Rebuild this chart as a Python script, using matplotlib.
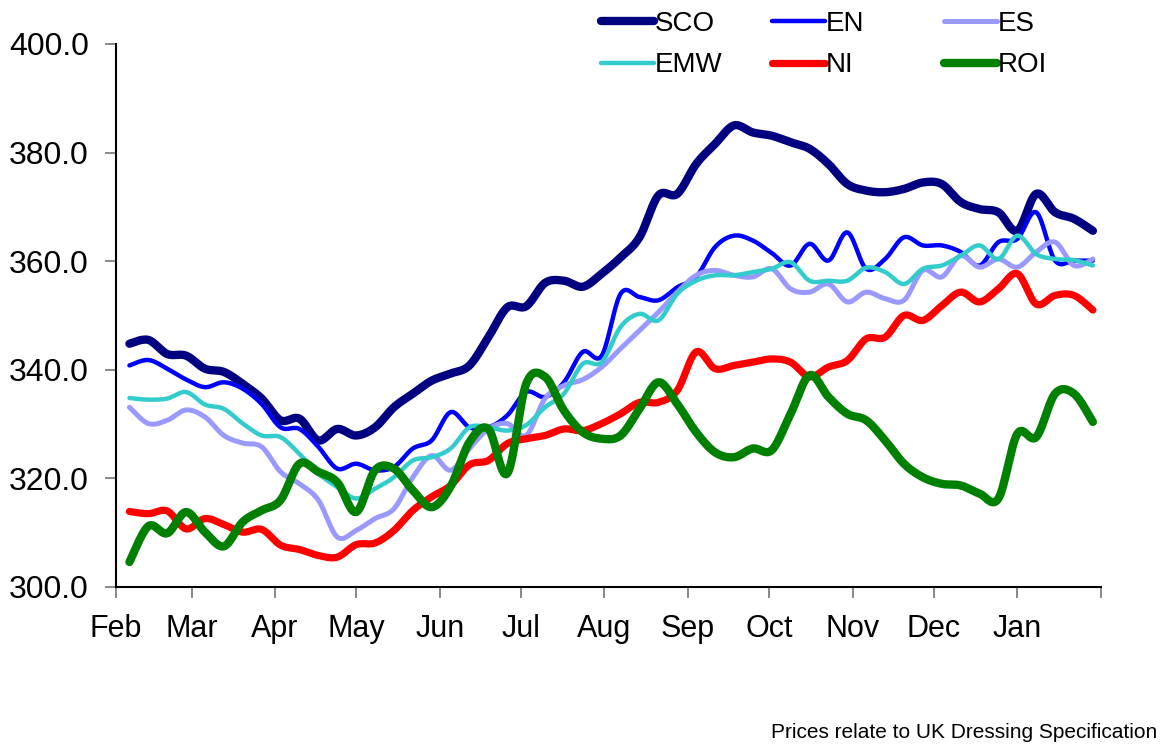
import numpy as np
import matplotlib.pyplot as plt

plt.rcParams['font.family'] = ['Liberation Sans', 'DejaVu Sans']

# month axis (days from 1 Feb)
months = ['Feb', 'Mar', 'Apr', 'May', 'Jun', 'Jul', 'Aug', 'Sep', 'Oct', 'Nov', 'Dec', 'Jan', '']
month_start = [0, 28, 59, 89, 120, 150, 181, 212, 242, 273, 303, 334, 365]

# weekly prices
week = np.arange(52) * 7 + 5

sco = [344.8, 345.5, 342.9, 342.6, 340.2, 339.6, 337.4, 334.7, 330.7, 331.0,
       327.0, 329.1, 327.9, 329.4, 333.1, 335.6, 338.0, 339.3, 340.8, 346.0,
       351.5, 351.7, 356.0, 356.4, 355.3, 357.7, 360.7, 364.4, 372.1, 372.4,
       377.9, 381.6, 385.0, 383.7, 383.1, 381.9, 380.7, 377.9, 374.2, 373.0,
       372.7, 373.3, 374.5, 374.2, 370.9, 369.6, 369.0, 365.6, 372.4, 369.0,
       367.8, 365.6]
en = [340.8, 341.8, 340.2, 338.2, 336.8, 337.7, 336.5, 333.7, 329.4, 329.1,
      325.8, 321.8, 322.7, 321.5, 322.1, 325.5, 327.0, 332.2, 329.4, 329.4,
      331.6, 335.9, 335.0, 337.7, 343.3, 342.6, 354.0, 353.4, 352.8, 355.2,
      357.1, 362.6, 364.7, 363.8, 361.5, 359.2, 363.2, 360.1, 365.3, 358.6,
      360.4, 364.4, 362.9, 362.9, 361.7, 359.2, 363.5, 364.1, 369.0, 360.1,
      360.1, 360.1]
es = [333.1, 330.1, 330.7, 332.6, 331.3, 327.9, 326.5, 325.8, 321.2, 319.0,
      316.0, 309.2, 310.4, 312.6, 314.4, 320.2, 324.2, 321.5, 325.5, 329.1,
      330.1, 327.9, 334.7, 337.1, 338.2, 340.5, 343.9, 347.2, 350.6, 354.3,
      357.4, 358.3, 357.4, 357.1, 358.6, 354.9, 354.3, 355.8, 352.5, 354.3,
      353.1, 352.8, 358.3, 357.1, 361.0, 358.9, 360.4, 358.9, 361.7, 363.5,
      359.2, 360.4]
emw = [334.8, 334.5, 334.7, 335.9, 333.6, 332.8, 330.1, 327.9, 327.6, 324.5,
       320.9, 318.4, 316.3, 318.1, 320.2, 323.3, 323.9, 325.5, 329.4, 329.4,
       328.8, 329.8, 333.1, 335.6, 341.1, 341.4, 347.9, 350.3, 349.1, 354.0,
       356.4, 357.4, 357.4, 358.0, 358.6, 359.8, 356.4, 356.4, 356.4, 358.8,
       358.0, 355.8, 358.6, 359.2, 361.0, 362.9, 360.4, 364.7, 361.3, 360.4,
       360.2, 359.2]
ni = [313.9, 313.5, 314.0, 310.7, 312.6, 311.5, 310.1, 310.6, 307.7, 306.9,
      305.8, 305.5, 307.8, 308.1, 310.4, 314.1, 316.6, 318.7, 322.5, 323.3,
      326.4, 327.3, 327.9, 329.1, 328.8, 330.1, 331.9, 334.0, 334.0, 336.2,
      343.3, 340.2, 340.8, 341.4, 342.0, 341.4, 338.7, 340.5, 341.7, 345.7,
      346.0, 350.0, 349.1, 351.8, 354.3, 352.5, 354.9, 357.7, 352.1, 353.7,
      353.7, 351.0]
roi = [304.6, 311.2, 309.9, 313.8, 310.1, 307.5, 312.0, 314.1, 316.0, 322.7,
       321.2, 319.3, 313.8, 321.5, 321.8, 317.8, 314.7, 318.5, 326.7, 329.1,
       320.9, 337.4, 338.7, 332.5, 328.5, 327.3, 327.9, 332.8, 337.7, 333.7,
       328.5, 324.8, 323.9, 325.5, 325.2, 331.9, 339.0, 335.0, 331.9, 330.7,
       327.0, 322.7, 320.2, 319.0, 318.7, 317.2, 316.3, 328.2, 327.6, 335.6,
       335.6, 330.4]

names = ['SCO', 'EN', 'ES', 'EMW', 'NI', 'ROI']
colors = ['#000080', '#0000FF', '#9999FF', '#33CCCC', '#FF0000', '#008000']
widths = [6, 3.2, 3.6, 3.2, 5.2, 6]


def smooth(x, y, n=16):
    # Catmull-Rom curve through the points (like Excel "smoothed line")
    x = np.asarray(x, float)
    y = np.asarray(y, float)
    px = np.r_[x[0], x, x[-1]]
    py = np.r_[y[0], y, y[-1]]
    t = np.linspace(0, 1, n, endpoint=False)[:, None]
    p0x, p1x, p2x, p3x = px[:-3], px[1:-2], px[2:-1], px[3:]
    p0y, p1y, p2y, p3y = py[:-3], py[1:-2], py[2:-1], py[3:]
    b0 = (1 - t) ** 3
    b1 = 3 * (1 - t) ** 2 * t
    b2 = 3 * (1 - t) * t ** 2
    b3 = t ** 3
    cx = b0 * p1x + b1 * (p1x + (p2x - p0x) / 6) + b2 * (p2x - (p3x - p1x) / 6) + b3 * p2x
    cy = b0 * p1y + b1 * (p1y + (p2y - p0y) / 6) + b2 * (p2y - (p3y - p1y) / 6) + b3 * p2y
    return np.r_[cx.T.ravel(), x[-1]], np.r_[cy.T.ravel(), y[-1]]


fig = plt.figure(figsize=(11.7, 7.49), dpi=100)
ax = fig.add_axes([0.0991, 0.2163, 0.8419, 0.725])

lines = []
for name, vals, c, w in zip(names, [sco, en, es, emw, ni, roi], colors, widths):
    sx, sy = smooth(week, vals)
    ln, = ax.plot(sx, sy, color=c, lw=w, solid_capstyle='round',
                  solid_joinstyle='round', label=name)
    lines.append(ln)

ax.set_xlim(0, 365)
ax.set_ylim(300, 400)
ax.set_yticks(np.arange(300, 401, 20))
ax.set_yticklabels(['%.1f' % v for v in np.arange(300, 401, 20)])
ax.set_xticks(month_start)
ax.set_xticklabels(months)

for s in ['top', 'right']:
    ax.spines[s].set_visible(False)
for s in ['left', 'bottom']:
    ax.spines[s].set_linewidth(1.5)
    ax.spines[s].set_color('black')
ax.tick_params(axis='both', colors='#808080', labelcolor='black',
               length=8, width=1.3)
ax.tick_params(axis='y', pad=11.5, labelsize=23)
ax.tick_params(axis='x', pad=11.5, labelsize=22)

# legend: three columns placed like the original
col_x = [0.4995, 0.6455, 0.7925]
for k in range(3):
    handles = [lines[k], lines[k + 3]]
    leg = fig.legend(handles=handles, labels=[h.get_label() for h in handles],
                     loc='upper left', bbox_to_anchor=(col_x[k], 1.008),
                     frameon=False, fontsize=20, handlelength=1.9,
                     handletextpad=0.05, labelspacing=0.56, borderpad=0.1)

fig.text(0.989, 0.009, 'Prices relate to UK Dressing Specification',
         ha='right', va='bottom', fontsize=15)

fig.savefig('out.png', dpi=100)
